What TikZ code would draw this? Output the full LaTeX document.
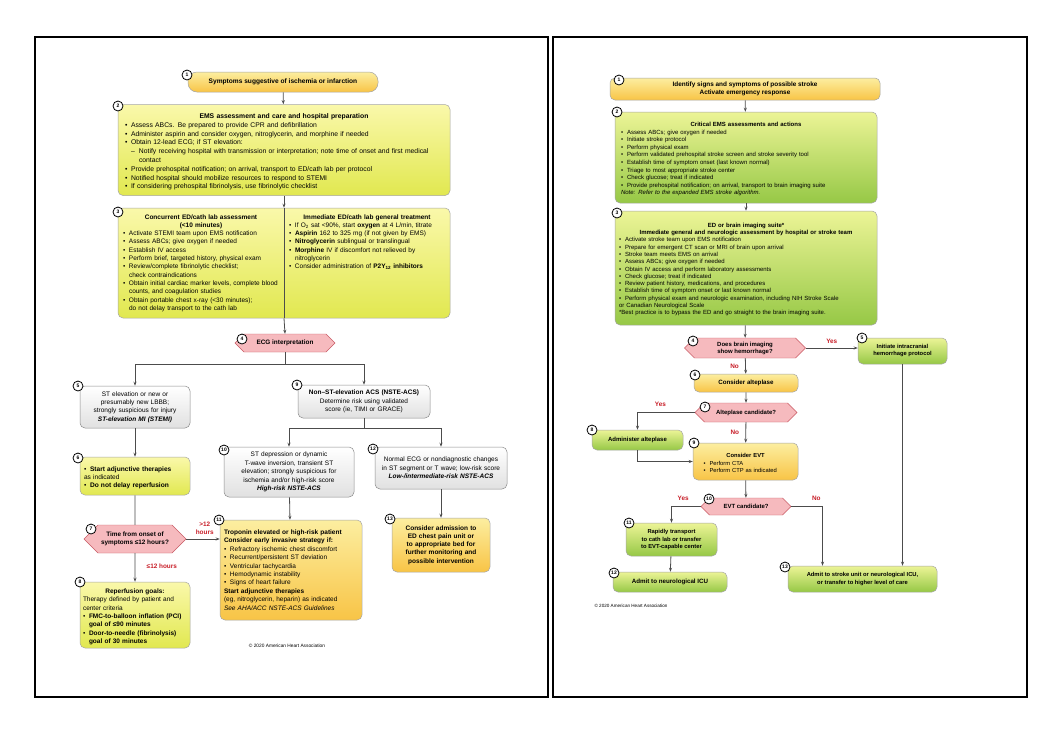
\documentclass[tikz,border=0pt]{standalone}
\usepackage{fontspec}
\setmainfont{Liberation Sans}
\usetikzlibrary{arrows.meta,shapes.symbols}
\newcommand\bi[1]{\par\hangindent=6pt\hangafter=1\noindent\makebox[6pt][l]{\textbullet}#1}
\newcommand\ttl[1]{\par\centerline{\bfseries #1}}
\hyphenpenalty=10000
\exhyphenpenalty=10000
\begin{document}
\begin{tikzpicture}[x=1pt,y=-1pt,
 base/.style={rounded corners=5pt,draw=black!35,line width=0.5pt,inner sep=2pt,align=left,font=\fontsize{6.5}{8.4}\selectfont},
 ylw/.style={base,top color={rgb,255:red,250;green,248;blue,170},bottom color={rgb,255:red,225;green,232;blue,80}},
 org/.style={base,top color={rgb,255:red,252;green,238;blue,160},bottom color={rgb,255:red,248;green,196;blue,70}},
 grn/.style={base,top color={rgb,255:red,236;green,244;blue,150},bottom color={rgb,255:red,150;green,200;blue,70}},
 gry/.style={base,draw=black!45,top color=white,bottom color=black!12,align=center},
 hex/.style={signal,signal to=west and east,draw={rgb,255:red,200;green,90;blue,100},fill={rgb,255:red,246;green,186;blue,190},font=\fontsize{6.4}{7.6}\selectfont\bfseries,align=center,inner sep=1pt},
 num/.style={circle,draw=black,line width=0.8pt,fill=white,inner sep=0pt,minimum size=10pt,font=\fontsize{5}{5}\selectfont\bfseries},
 arr/.style={-{Stealth[length=4pt,width=3pt]},line width=0.8pt,draw=black!70},
 ln/.style={line width=0.8pt,draw=black!70},
 lab/.style={font=\fontsize{6.4}{7.4}\selectfont\bfseries,text={rgb,255:red,200;green,30;blue,40},align=center}]
\fill[white] (0,0) rectangle (1043,740);
\useasboundingbox (0,0) rectangle (1043,740);
\draw[line width=2.5pt] (35,37) rectangle (548,697);
\draw[line width=2.5pt] (553,37) rectangle (1027,697);
% ---------------- LEFT ----------------
\node[org,rounded corners=9pt,minimum width=190,minimum height=20,align=center,font=\fontsize{6.6}{7.4}\selectfont\bfseries] (b1L) at (283,82) {Symptoms suggestive of ischemia or infarction};
\node[ylw,minimum width=332,minimum height=91,text width=318,font=\fontsize{6.8}{8.8}\selectfont] (b2L) at (284,150) {\ttl{EMS assessment and care and hospital preparation}
\bi{Assess ABCs. Be prepared to provide CPR and defibrillation}
\bi{Administer aspirin and consider oxygen, nitroglycerin, and morphine if needed}
\bi{Obtain 12-lead ECG; if ST elevation:}
\par\hangindent=14pt\hangafter=1\noindent\hspace*{6pt}\makebox[8pt][l]{--}Notify receiving hospital with transmission or interpretation; note time of onset and first medical contact
\bi{Provide prehospital notification; on arrival, transport to ED/cath lab per protocol}
\bi{Notified hospital should mobilize resources to respond to STEMI}
\bi{If considering prehospital fibrinolysis, use fibrinolytic checklist}\par};
\node[ylw,minimum width=332,minimum height=110,text width=322,font=\fontsize{6.5}{8.3}\selectfont] (b3L) at (284,263) {\begin{minipage}[t]{156pt}\ttl{Concurrent ED/cath lab assessment}\ttl{(<10 minutes)}
\bi{Activate STEMI team upon EMS notification}
\bi{Assess ABCs; give oxygen if needed}
\bi{Establish IV access}
\bi{Perform brief, targeted history, physical exam}
\bi{Review/complete fibrinolytic checklist;\\check contraindications}
\bi{Obtain initial cardiac marker levels, complete blood counts, and coagulation studies}
\bi{Obtain portable chest x-ray (<30 minutes);\\do not delay transport to the cath lab}\par\end{minipage}\hfill
\begin{minipage}[t]{156pt}\ttl{Immediate ED/cath lab general treatment}
\bi{If O\textsubscript{2} sat <90\%, start \textbf{oxygen} at 4 L/min, titrate}
\bi{\textbf{Aspirin} 162 to 325 mg (if not given by EMS)}
\bi{\textbf{Nitroglycerin} sublingual or translingual}
\bi{\textbf{Morphine} IV if discomfort not relieved by nitroglycerin}
\bi{Consider administration of \textbf{P2Y\textsubscript{12} inhibitors}}\par\end{minipage}};
\node[hex,minimum width=100,minimum height=18] (b4L) at (285,343) {ECG interpretation};
\node[gry,minimum width=110,minimum height=42,text width=104] (b5L) at (135,407) {ST elevation or new or presumably new LBBB; strongly suspicious for injury\\\textbf{\textit{ST-elevation MI (STEMI)}}};
\node[ylw,minimum width=110,minimum height=38,text width=102,font=\fontsize{6.6}{8.2}\selectfont] (b6L) at (135,476) {\bi{\textbf{Start adjunctive therapies}\\as indicated}\bi{\textbf{Do not delay reperfusion}}\par};
\node[hex,minimum width=102,minimum height=28] (b7L) at (135,539) {Time from onset of\\symptoms ≤12 hours?};
\node[ylw,minimum width=110,minimum height=66,text width=104] (b8L) at (135,615) {\ttl{Reperfusion goals:}\par\noindent Therapy defined by patient and center criteria
\bi{\textbf{FMC-to-balloon inflation (PCI) goal of ≤90 minutes}}
\bi{\textbf{Door-to-needle (fibrinolysis) goal of 30 minutes}}\par};
\node[gry,minimum width=132,minimum height=33,text width=126] (b9L) at (364,401.5) {\textbf{Non–ST-elevation ACS (NSTE-ACS)}\\Determine risk using validated\\score (ie, TIMI or GRACE)};
\node[gry,minimum width=130,minimum height=50,text width=118] (b10L) at (289,472) {ST depression or dynamic T-wave inversion, transient ST elevation; strongly suspicious for ischemia and/or high-risk score\\\textbf{\textit{High-risk NSTE-ACS}}};
\node[org,minimum width=142,minimum height=100,text width=134] (b11L) at (291,570) {\textbf{Troponin elevated or high-risk patient}\par\noindent\textbf{Consider early invasive strategy if:}
\bi{Refractory ischemic chest discomfort}
\bi{Recurrent/persistent ST deviation}
\bi{Ventricular tachycardia}
\bi{Hemodynamic instability}
\bi{Signs of heart failure}
\par\noindent\textbf{Start adjunctive therapies}\par\noindent(eg, nitroglycerin, heparin) as indicated\par\noindent\textit{See AHA/ACC NSTE-ACS Guidelines}\par};
\node[gry,minimum width=132,minimum height=42,text width=126] (b12L) at (441,468) {Normal ECG or nondiagnostic changes in ST segment or T wave; low-risk score\\\textbf{\textit{Low-/intermediate-risk NSTE-ACS}}};
\node[org,minimum width=98,minimum height=54,text width=90,align=center,font=\fontsize{6.5}{8.2}\selectfont\bfseries] (b13L) at (441,545) {Consider admission to ED chest pain unit or to appropriate bed for further monitoring and possible intervention};
\node[font=\fontsize{4.8}{5}\selectfont] (cpL) at (287,646) {© 2020 American Heart Association};
\draw[arr] (b1L) -- (b2L);
\draw[arr] (b2L) -- (b3L.north);
\draw[ln] (b3L.north) -- (b3L.south);
\draw[arr] (b3L.south) -- (b4L.north);
\draw[arr] (b4L.south) -- ++(0,12) -| (b5L.north);
\draw[arr] (b4L.south) -- ++(0,12) -| (b9L.north);
\draw[arr] (b5L) -- (b6L);
\draw[ln] (b6L) -- (b7L);
\draw[arr] (b7L) -- node[lab,right=8pt,pos=0.45] {≤12 hours} (b8L);
\draw[arr] (b7L.east) -- node[lab,above=1pt,pos=0.55] {>12\\hours} (b7L.east -| b11L.west);
\draw[arr] (b9L.south) -- ++(0,10) -| (b10L.north);
\draw[arr] (b9L.south) -- ++(0,10) -| (b12L.north);
\draw[arr] (b10L) -- (b11L);
\draw[arr] (b12L) -- (b13L);
\foreach \n/\p in {1/{187,75},2/{118,106},3/{118,212},4/{242,339},5/{78,386},6/{78,458},7/{91,529},8/{80,582},9/{297,385},10/{224,450},11/{219,520},12/{373,449},13/{390,519}}
  \node[num] at (\p) {\n};
% ---------------- RIGHT ----------------
\node[org,minimum width=270,minimum height=22,align=center,font=\fontsize{6.4}{7.6}\selectfont\bfseries] (b1R) at (745,89) {Identify signs and symptoms of possible stroke\\Activate emergency response};
\node[grn,minimum width=262,minimum height=91,text width=250,font=\fontsize{6}{7.6}\selectfont] (b2R) at (746,157.5) {\ttl{Critical EMS assessments and actions}
\bi{Assess ABCs; give oxygen if needed}
\bi{Initiate stroke protocol}
\bi{Perform physical exam}
\bi{Perform validated prehospital stroke screen and stroke severity tool}
\bi{Establish time of symptom onset (last known normal)}
\bi{Triage to most appropriate stroke center}
\bi{Check glucose; treat if indicated}
\bi{Provide prehospital notification; on arrival, transport to brain imaging suite}
\par\noindent\textit{Note: Refer to the expanded EMS stroke algorithm.}\par};
\node[grn,minimum width=262,minimum height=114,text width=254,font=\fontsize{6}{7.3}\selectfont] (b3R) at (746,268) {\ttl{ED or brain imaging suite*}\ttl{Immediate general and neurologic assessment by hospital or stroke team}
\bi{Activate stroke team upon EMS notification}
\bi{Prepare for emergent CT scan or MRI of brain upon arrival}
\bi{Stroke team meets EMS on arrival}
\bi{Assess ABCs; give oxygen if needed}
\bi{Obtain IV access and perform laboratory assessments}
\bi{Check glucose; treat if indicated}
\bi{Review patient history, medications, and procedures}
\bi{Establish time of symptom onset or last known normal}
\bi{Perform physical exam and neurologic examination, including NIH Stroke Scale\\or Canadian Neurological Scale}
\par\noindent*Best practice is to bypass the ED and go straight to the brain imaging suite.\par};
\node[hex,minimum width=121,minimum height=20,font=\fontsize{6}{7}\selectfont\bfseries] (b4R) at (745,348) {Does brain imaging\\show hemorrhage?};
\node[grn,minimum width=89,minimum height=26,align=center,font=\fontsize{5.8}{7}\selectfont\bfseries] (b5R) at (902.5,351) {Initiate intracranial\\hemorrhage protocol};
\node[org,minimum width=104,minimum height=18,align=center,font=\fontsize{6.2}{7.2}\selectfont\bfseries] (b6R) at (746,383) {Consider alteplase};
\node[hex,minimum width=102,minimum height=19,font=\fontsize{6}{7}\selectfont\bfseries] (b7R) at (746,412.5) {Alteplase candidate?};
\node[grn,minimum width=91,minimum height=20,align=center,font=\fontsize{6}{7.2}\selectfont\bfseries] (b8R) at (637.5,440) {Administer alteplase};
\node[org,minimum width=105,minimum height=37,text width=84,font=\fontsize{5.8}{7.4}\selectfont] (b9R) at (745.5,461.5) {\ttl{Consider EVT}\bi{Perform CTA}\bi{Perform CTP as indicated}\par};
\node[hex,minimum width=90,minimum height=17,font=\fontsize{6}{7}\selectfont\bfseries] (b10R) at (746,506.5) {EVT candidate?};
\node[grn,minimum width=91,minimum height=33,align=center,font=\fontsize{5.8}{7.2}\selectfont\bfseries] (b11R) at (671.5,539.5) {Rapidly transport\\to cath lab or transfer\\to EVT-capable center};
\node[grn,minimum width=114,minimum height=20,align=center,font=\fontsize{6.2}{7.2}\selectfont\bfseries] (b12R) at (670,582) {Admit to neurological ICU};
\node[grn,minimum width=149,minimum height=26,align=center,font=\fontsize{5.8}{7.2}\selectfont\bfseries] (b13R) at (862.5,579) {Admit to stroke unit or neurological ICU,\\or transfer to higher level of care};
\node[font=\fontsize{4.6}{5}\selectfont] (cpR) at (631,606) {© 2020 American Heart Association};
\draw[arr] (b1R) -- (b2R);
\draw[arr] (b2R) -- (b3R);
\draw[arr] (b3R) -- (b4R);
\draw[arr] (b4R.east) -- node[lab,above=1pt] {Yes} (b4R.east -| b5R.west);
\draw[arr] (b4R) -- node[lab,left=3pt] {No} (b6R);
\draw[arr] (b6R) -- (b7R);
\draw[arr] (b7R.west) -| node[lab,above=2pt,pos=0.3] {Yes} (b8R.north);
\draw[arr] (b7R) -- node[lab,left=3pt] {No} (b9R);
\draw[arr,line width=0.5pt] (b8R.south) |- (b9R.west);
\draw[arr] (b9R) -- (b10R);
\draw[arr] (b10R.west) -| node[lab,above=2pt,pos=0.3] {Yes} (b11R.north);
\draw[arr] (b10R.east) -| node[lab,above=2pt,pos=0.4] {No} ([xshift=-40pt]b13R.north);
\draw[arr] (b5R.south) -- (b5R.south |- b13R.north);
\draw[arr] (b11R) -- (b12R);
\foreach \n/\p in {1/{619,80},2/{617,112},3/{617,213},4/{693,341},5/{862,338},6/{695,375},7/{705,407},8/{592,430},9/{694,443},10/{709,499},11/{629,523},12/{614,573},13/{785,567}}
  \node[num] at (\p) {\n};
\end{tikzpicture}
\end{document}
